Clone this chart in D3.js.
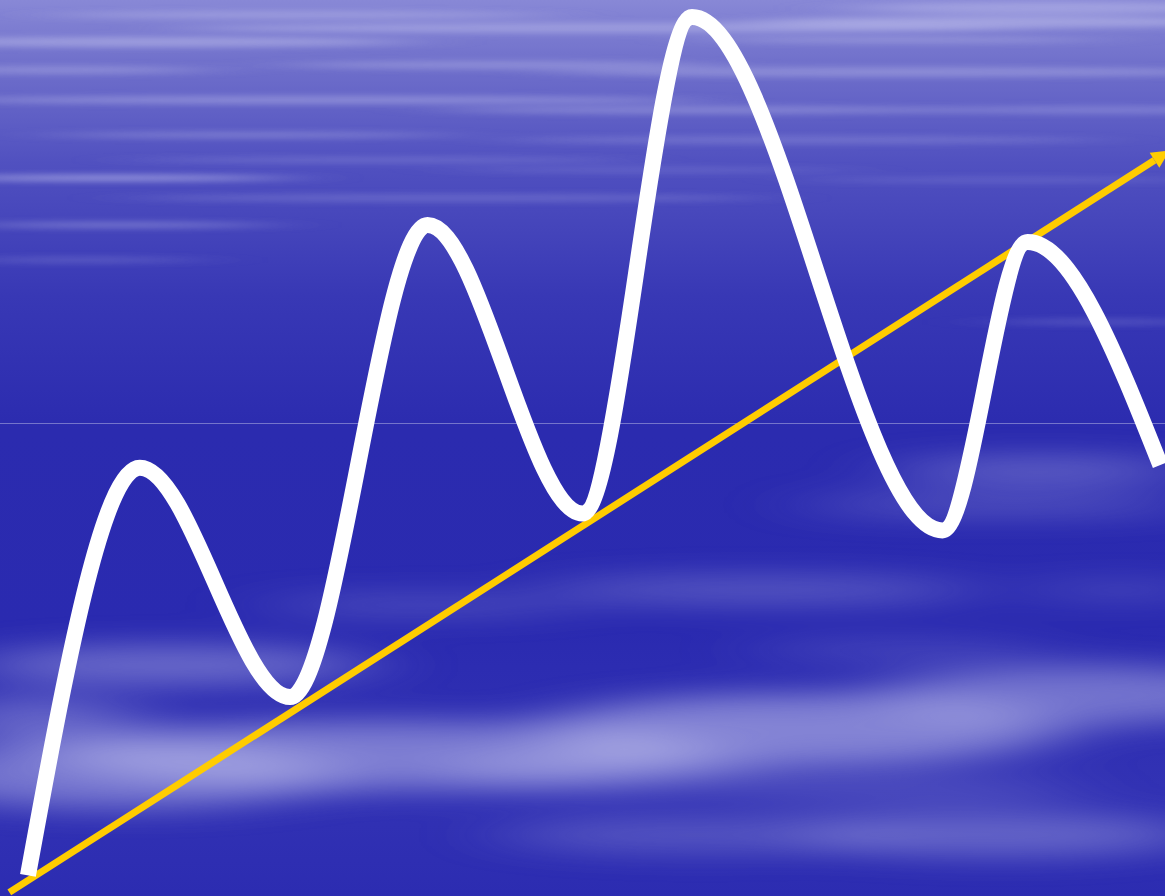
<!DOCTYPE html>
<html><head><meta charset="utf-8">
<script src="https://cdn.jsdelivr.net/npm/d3@7"></script>
<style>html,body{margin:0;padding:0;background:#2a2ab0;overflow:hidden}</style>
</head><body>
<svg id="chart" width="1165" height="896"></svg>
<script>
// ---- data ----
const xValues = [2.4, 12.0, 24.9, 36.7, 50.0, 59.4, 80.9, 88.2, 99.6];
const seriesValues = [2.3, 47.8, 22.2, 74.9, 42.7, 98.1, 40.8, 73.0, 48.1];
const trendX = [0.8, 100.4];
const trendY = [0.4, 83.2];
const referenceLevel = [52.8];
// decorative cloud streaks: [x, y, rx, ry, opacity]
const upperStreaks = [
  [150,42,260,5,0.4],[600,28,420,5,0.35],[1000,22,250,6,0.4],[320,100,380,4,0.35],
  [900,72,350,5,0.3],[110,178,180,3,0.55],[450,198,320,4,0.2],[120,225,150,3,0.35],
  [800,140,300,4,0.2],[1100,322,110,3,0.2],[1050,8,200,6,0.35],[700,110,260,4,0.3],
  [250,135,200,3,0.3],[60,70,150,4,0.3],[500,65,220,4,0.3],[1100,110,180,4,0.25],
  [900,40,200,3,0.3],[380,160,250,3,0.2],[80,260,120,3,0.2],[650,170,200,3,0.15],
  [1000,180,200,3,0.15],[300,15,250,4,0.3]
];
const lowerClouds = [
  [170,665,200,20,0.4],[380,755,330,34,0.5],[800,730,260,36,0.55],[1080,695,200,30,0.45],
  [1040,470,150,12,0.4],[1000,505,200,10,0.3],[760,590,220,14,0.3],[420,605,160,10,0.25],
  [120,775,220,34,0.45],[1000,835,200,22,0.35],[700,835,200,18,0.25],[900,790,180,14,0.2],
  [40,720,100,25,0.35],[900,650,150,10,0.2],[1120,590,100,10,0.2],[600,770,160,20,0.35]
];

const W = 1165, H = 896;
const svg = d3.select("#chart");
const x = d3.scaleLinear().domain([0, 100]).range([0, W]);
const y = d3.scaleLinear().domain([0, 100]).range([H, 0]);

const defs = svg.append("defs");
const g = defs.append("linearGradient").attr("id","bg").attr("x1",0).attr("y1",0).attr("x2",0).attr("y2",1);
[[0,"#8888d6"],[0.07,"#7070cb"],[0.18,"#5151c0"],[0.33,"#3838b5"],[0.48,"#2b2baf"],[0.7,"#2a2ab0"],[0.88,"#3232b4"],[1,"#2c2cb1"]]
  .forEach(([o,c]) => g.append("stop").attr("offset",o).attr("stop-color",c));
defs.append("filter").attr("id","blurA").attr("x","-50%").attr("y","-200%").attr("width","200%").attr("height","500%")
  .append("feGaussianBlur").attr("stdDeviation","40 3");
defs.append("filter").attr("id","blurB").attr("x","-50%").attr("y","-200%").attr("width","200%").attr("height","500%")
  .append("feGaussianBlur").attr("stdDeviation","45 14");

svg.append("rect").attr("width",W).attr("height",H).attr("fill","url(#bg)");
svg.append("g").attr("filter","url(#blurA)").selectAll("ellipse").data(upperStreaks).join("ellipse")
  .attr("cx",d=>d[0]).attr("cy",d=>d[1]).attr("rx",d=>d[2]).attr("ry",d=>d[3])
  .attr("fill","#d4d4f6").attr("opacity",d=>d[4]);
svg.append("g").attr("filter","url(#blurB)").selectAll("ellipse").data(lowerClouds).join("ellipse")
  .attr("cx",d=>d[0]).attr("cy",d=>d[1]).attr("rx",d=>d[2]).attr("ry",d=>d[3])
  .attr("fill","#c8c8f0").attr("opacity",d=>d[4]);

// reference line
svg.append("line").attr("x1",0).attr("x2",W)
  .attr("y1",Math.round(y(referenceLevel[0]))+0.5).attr("y2",Math.round(y(referenceLevel[0]))+0.5)
  .attr("stroke","#ffffff").attr("stroke-opacity",0.35).attr("stroke-width",1);

// trend arrow
const tx0 = x(trendX[0]), ty0 = y(trendY[0]), tx1 = x(trendX[1]), ty1 = y(trendY[1]);
const ang = Math.atan2(ty1 - ty0, tx1 - tx0);
const headLen = 18, headW = 9;
const bx = tx1 - headLen*Math.cos(ang), by = ty1 - headLen*Math.sin(ang);
svg.append("line").attr("x1",tx0).attr("y1",ty0).attr("x2",bx).attr("y2",by)
  .attr("stroke","#ffcc00").attr("stroke-width",7);
const px = -Math.sin(ang), py = Math.cos(ang);
svg.append("path").attr("fill","#ffcc00")
  .attr("d",`M${tx1},${ty1}L${bx+px*headW},${by+py*headW}L${bx-px*headW},${by-py*headW}Z`);

// white series line
const pts = xValues.map((v,i)=>[v, seriesValues[i]]);
svg.append("path").datum(pts)
  .attr("d", d3.line().x(d=>x(d[0])).y(d=>y(d[1])).curve(d3.curveMonotoneX))
  .attr("fill","none").attr("stroke","#ffffff").attr("stroke-width",16).attr("stroke-linecap","butt")
  .attr("stroke-linejoin","round");
</script>
</body></html>
